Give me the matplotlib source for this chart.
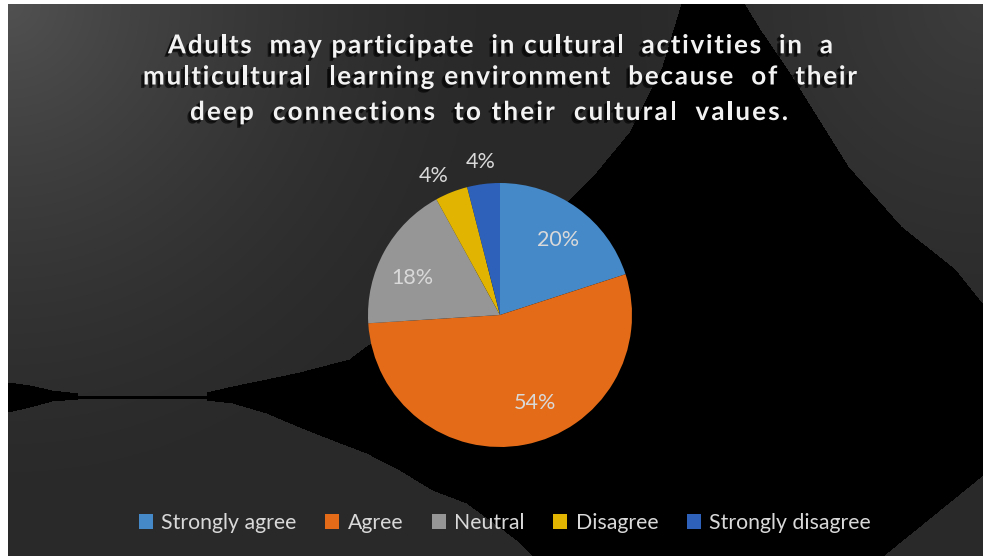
import numpy as np
import matplotlib
matplotlib.use("Agg")
import matplotlib.pyplot as plt
from matplotlib.patches import Polygon
import matplotlib.patheffects as pe
from matplotlib import font_manager, ft2font

# ---- data -------------------------------------------------------------
categories = ["Strongly agree", "Agree", "Neutral", "Disagree", "Strongly disagree"]
shares = [20, 54, 18, 4, 4]
slice_colors = ["#4589c8", "#e46c18", "#969696", "#e0b400", "#2d61ba"]
title_lines = [
    "Adults  may participate  in cultural  activities  in  a",
    "multicultural  learning environment  because  of  their",
    "deep  connections  to their  cultural  values.",
]

# ---- canvas (pixel helpers) -------------------------------------------
W, H, DPI = 983, 556, 100
fig = plt.figure(figsize=(W / DPI, H / DPI), dpi=DPI, facecolor="white")


def fx(px):
    return px / W


def fy(py):
    return 1 - py / H


# ---- dark gradient backdrop with the black star-shaped fill -----------
L, T = 8, 4
bg = fig.add_axes([fx(L), 0, 1 - fx(L), 1 - T / H])
bg.set_xlim(L, W)
bg.set_ylim(H, T)
bg.axis("off")
yy, xx = np.mgrid[T:H, L:W] + 0.5
d_tl = np.hypot(xx - L, yy - T)
d_tr = np.hypot(xx - W, yy - T)
v = 41 + 40 * np.clip(1 - d_tl / 520, 0, 1) ** 1.6 + 20 * np.clip(1 - d_tr / 380, 0, 1) ** 1.3
g = np.clip(v, 0, 255) / 255
bg.imshow(np.dstack([g, g, g]), extent=(L, W, H, T), interpolation="bilinear", aspect="auto")

star = [
    (682, 4), (663, 67), (630, 133), (597, 173), (563, 207), (363, 350), (350, 360),
    (300, 373), (267, 380), (233, 387), (207, 393), (207, 396), (78, 396), (78, 394),
    (52, 391), (30, 386), (8, 383), (8, 412), (30, 407), (52, 401), (78, 399),
    (207, 399), (207, 400), (233, 403), (267, 413), (300, 427), (333, 440), (367, 453),
    (400, 470), (433, 490), (467, 503), (500, 527), (517, 540), (533, 556), (883, 556),
    (930, 518), (983, 475), (983, 305), (955, 270), (901, 227), (848, 167), (788, 71),
    (760, 30), (744, 4),
]
bg.add_patch(Polygon(star, closed=True, facecolor="black", edgecolor="none", antialiased=False))

# ---- pie ----------------------------------------------------------------
R, CX, CY = 132, 500, 315
ax = fig.add_axes([fx(CX - R), fy(CY + R), 2 * R / W, 2 * R / H])
ax.patch.set_alpha(0)
label_font = dict(color="#d9d9d9", fontsize=15.5, family="Lato")
wedges, _, pct_texts = ax.pie(
    shares, colors=slice_colors, startangle=90, counterclock=False, radius=1,
    autopct="%1.0f%%", pctdistance=0.72, textprops=label_font,
    wedgeprops=dict(linewidth=0),
)
ax.set_xlim(-1, 1)
ax.set_ylim(-1, 1)
ax.axis("off")

# small slices get their labels outside; larger ones are nudged like best-fit placement
angle_nudge = [-2, 11, 6, 4, 0]
for w, t, s, dn in zip(wedges, pct_texts, shares, angle_nudge):
    mid = np.deg2rad((w.theta1 + w.theta2) / 2 + dn)
    dist = 1.17 if s < 5 else 0.72
    t.set_position((dist * np.cos(mid), dist * np.sin(mid)))
    t.set_ha("center")
    t.set_va("center")

# ---- title: bold, letter-spaced, with a soft drop shadow ----------------
title_span = [(168, 833), (143, 857), (190, 788)]
title_base = [53.3, 84.5, 120]
base_track = 1.8  # px of extra spacing between letters

probe_fp = font_manager.FontProperties(family="Lato", weight="bold", size=10)
ft = ft2font.FT2Font(font_manager.findfont(probe_fp))


def advances(text, size):
    ft.set_size(size, DPI)
    return [ft.load_char(ord(c)).linearHoriAdvance / 65536.0 for c in text]


# pick the size so the widest line fills its span with the base tracking
ref_line = title_lines[1]
nat10 = sum(advances(ref_line, 10))
span = title_span[1][1] - title_span[1][0]
title_size = 10 * (span - (len(ref_line) - 1) * base_track) / nat10
title_fp = font_manager.FontProperties(family="Lato", weight="bold", size=title_size)

shadow = [
    pe.SimplePatchShadow(offset=(-2.5, -2.5), shadow_rgbFace="black", alpha=0.6),
    pe.SimplePatchShadow(offset=(-1.5, -1.5), shadow_rgbFace="black", alpha=0.5),
    pe.Normal(),
]
for line, (x0, x1), yb in zip(title_lines, title_span, title_base):
    advs = advances(line, title_size)
    track = ((x1 - x0) - sum(advs)) / (len(line) - 1)
    x = x0
    for c, a in zip(line, advs):
        if c != " ":
            fig.text(fx(x), fy(yb), c, ha="left", va="baseline", fontproperties=title_fp,
                     color="#f2f2f2", path_effects=shadow)
        x += a + track

# ---- legend -------------------------------------------------------------
fig.legend(
    wedges, categories, loc="center", bbox_to_anchor=(fx(505), fy(523)), ncol=5,
    frameon=False, handlelength=0.65, handleheight=0.65, handletextpad=0.4,
    columnspacing=1.35, prop=dict(family="Lato", size=15.3), labelcolor="#d9d9d9",
    borderaxespad=0, borderpad=0,
)

fig.savefig("out.png", dpi=DPI, facecolor="white")
